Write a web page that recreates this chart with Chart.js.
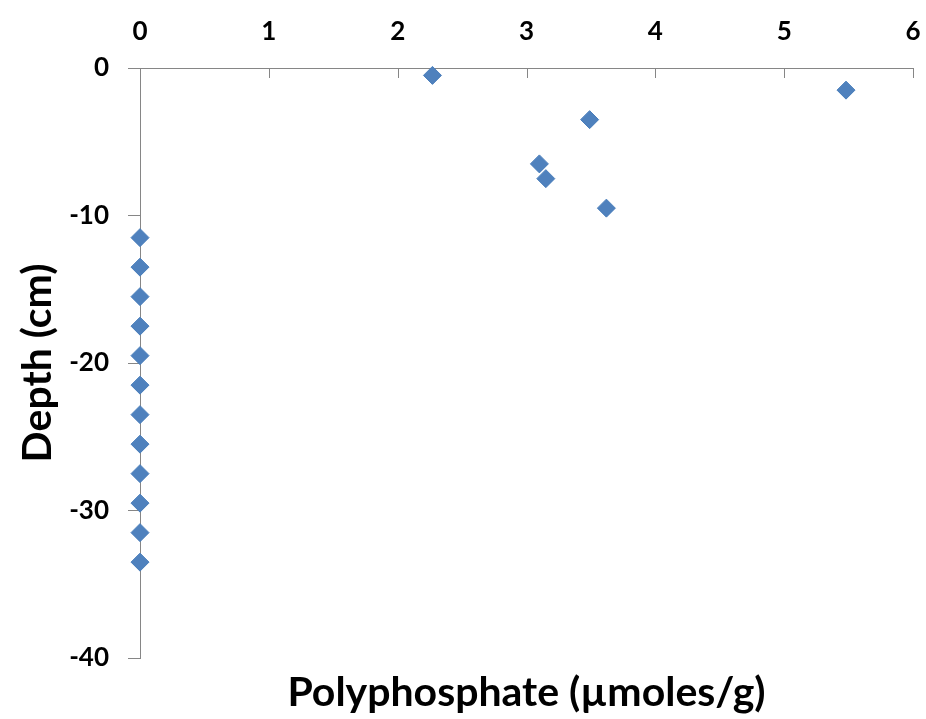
<!DOCTYPE html>
<html>
<head>
<meta charset="utf-8">
<title>Polyphosphate vs depth</title>
<script src="https://cdn.jsdelivr.net/npm/chart.js@4"></script>
<style>
  html, body { margin: 0; padding: 0; background: #fff; }
  #wrap { width: 926px; height: 719px; }
</style>
</head>
<body>
<div id="wrap"><canvas id="depthChart" width="926" height="719"></canvas></div>
<script>
// data
const polyphosphate = [2.27, 5.48, 3.49, 3.10, 3.15, 3.62,
  0, 0, 0, 0, 0, 0, 0, 0, 0, 0, 0, 0];
const depth = [-0.5, -1.5, -3.5, -6.5, -7.5, -9.5,
  -11.5, -13.5, -15.5, -17.5, -19.5, -21.5, -23.5, -25.5, -27.5, -29.5, -31.5, -33.5];
const xTicks = [0, 1, 2, 3, 4, 5, 6];
const yTicks = [-40, -30, -20, -10, 0];

const axisGray = "#868686";
const fontName = "Lato, 'Open Sans', sans-serif";

// tick marks of the top axis point down into the plot (Excel style)
const innerTicks = {
  id: "innerTicks",
  afterDraw(chart) {
    const sc = chart.scales.x;
    const ctx = chart.ctx;
    ctx.save();
    ctx.strokeStyle = axisGray;
    ctx.lineWidth = 1;
    xTicks.forEach((v) => {
      const px = Math.round(sc.getPixelForValue(v)) + 0.5;
      ctx.beginPath();
      ctx.moveTo(px, chart.chartArea.top);
      ctx.lineTo(px, chart.chartArea.top + 10);
      ctx.stroke();
    });
    ctx.restore();
  },
};

// no extra side padding for the horizontal axes, chart area is fixed by layout
function noSidePad(s) {
  s.paddingLeft = 0;
  s.paddingRight = 0;
}

const points = polyphosphate.map((x, i) => ({ x: x, y: depth[i] }));

new Chart(document.getElementById("depthChart"), {
  type: "scatter",
  data: {
    datasets: [
      {
        data: points,
        pointStyle: "rectRot",
        pointRadius: 9,
        pointHoverRadius: 9,
        backgroundColor: "#4F81BD",
        borderColor: "#4A7EBB",
        borderWidth: 1,
        clip: false,
      },
    ],
  },
  options: {
    responsive: false,
    animation: false,
    layout: { padding: { left: 0, right: 13, top: 0, bottom: 0 } },
    plugins: {
      legend: { display: false },
      tooltip: { enabled: false },
    },
    scales: {
      x: {
        type: "linear",
        position: "top",
        min: 0,
        max: 6,
        afterBuildTicks: (s) => { s.ticks = xTicks.map((v) => ({ value: v })); },
        afterFit: (s) => { s.height = 68; noSidePad(s); },
        grid: { display: true, drawOnChartArea: false, drawTicks: false },
        border: { display: true, color: axisGray, width: 1 },
        ticks: {
          padding: 21,
          color: "#000",
          maxRotation: 0,
          font: { family: fontName, size: 26, weight: "bold" },
        },
      },
      x2: {
        type: "linear",
        position: "bottom",
        min: 0,
        max: 6,
        afterFit: (s) => { s.height = 61; noSidePad(s); },
        grid: { display: false },
        border: { display: false },
        ticks: { display: false },
        title: {
          display: true,
          text: "Polyphosphate (µmoles/g)",
          color: "#000",
          padding: { top: 0, bottom: 2 },
          font: { family: fontName, size: 41, weight: "bold" },
        },
      },
      y: {
        type: "linear",
        min: -40,
        max: 0,
        afterBuildTicks: (s) => { s.ticks = yTicks.map((v) => ({ value: v })); },
        afterFit: (s) => { s.width = 140; },
        grid: { drawOnChartArea: false, drawTicks: true, tickLength: 12, color: axisGray },
        border: { display: true, color: axisGray, width: 1 },
        ticks: {
          padding: 19,
          color: "#000",
          font: { family: fontName, size: 26, weight: "bold" },
        },
        title: {
          display: true,
          text: "Depth (cm)",
          color: "#000",
          padding: { top: 13, bottom: 0 },
          font: { family: fontName, size: 41, weight: "bold" },
        },
      },
    },
  },
  plugins: [innerTicks],
});
</script>
</body>
</html>
